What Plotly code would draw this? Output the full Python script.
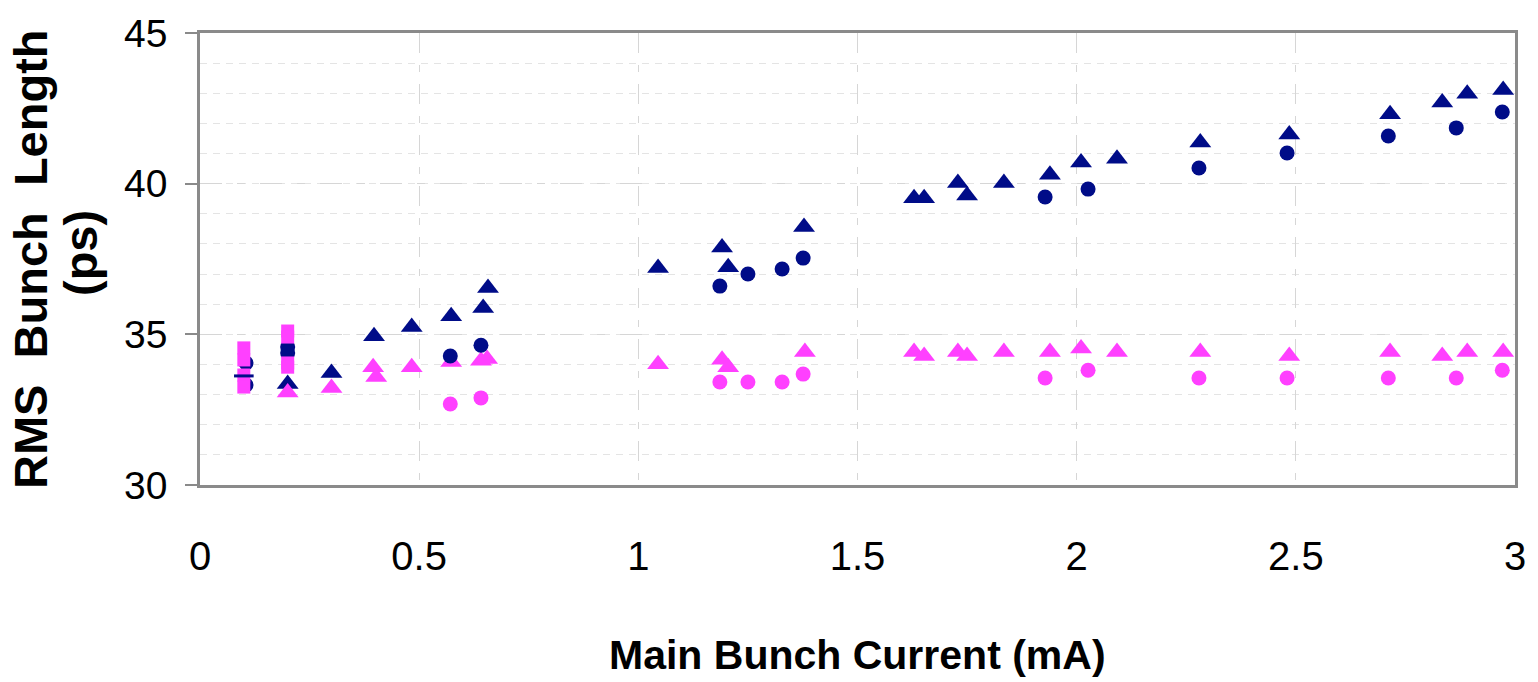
import plotly.graph_objects as go

# Main bunch current (mA) and RMS bunch length (ps) for each measured set
navy_tri_x = [0.20, 0.30, 0.397, 0.483, 0.573, 0.646, 0.657, 1.045, 1.191, 1.205, 1.378,
              1.629, 1.652, 1.729, 1.75, 1.834, 1.939, 2.01, 2.092, 2.282, 2.485, 2.715,
              2.834, 2.891, 2.973]
navy_tri_y = [33.35, 33.72, 34.94, 35.24, 35.60, 35.87, 36.54, 37.20, 37.88, 37.23, 38.56,
              39.52, 39.52, 40.02, 39.61, 40.02, 40.30, 40.70, 40.83, 41.37, 41.63, 42.30,
              42.69, 42.98, 43.11]

navy_circ_x = [0.105, 0.105, 0.20, 0.20, 0.571, 0.641, 1.186, 1.25, 1.328, 1.376, 1.928,
               2.026, 2.279, 2.48, 2.711, 2.866, 2.971]
navy_circ_y = [34.05, 33.32, 34.58, 34.38, 34.28, 34.64, 36.60, 37.00, 37.17, 37.53, 39.56,
               39.82, 40.52, 41.02, 41.58, 41.85, 42.38]

pink_tri_x = [0.20, 0.30, 0.395, 0.402, 0.483, 0.573, 0.641, 0.655, 1.045, 1.191, 1.205,
              1.380, 1.629, 1.652, 1.729, 1.75, 1.834, 1.939, 2.01, 2.092, 2.282, 2.485,
              2.715, 2.834, 2.891, 2.973]
pink_tri_y = [33.07, 33.22, 33.91, 33.58, 33.91, 34.08, 34.12, 34.18, 34.01, 34.16, 33.91,
              34.41, 34.41, 34.28, 34.41, 34.28, 34.41, 34.41, 34.53, 34.41, 34.41, 34.28,
              34.41, 34.28, 34.41, 34.41]

pink_circ_x = [0.571, 0.641, 1.186, 1.25, 1.328, 1.376, 1.928, 2.026, 2.279, 2.48, 2.711,
               2.866, 2.971]
pink_circ_y = [32.69, 32.89, 33.42, 33.42, 33.42, 33.68, 33.55, 33.81, 33.55, 33.55, 33.55,
               33.55, 33.81]

pink_sq_x = [0.1, 0.1, 0.1, 0.1, 0.2, 0.2, 0.2, 0.2]
pink_sq_y = [34.55, 34.15, 33.65, 33.25, 35.11, 34.91, 34.05, 33.91]

navy_dash_x = [0.1]
navy_dash_y = [33.62]

x_ticks = [0, 0.5, 1, 1.5, 2, 2.5, 3]
x_tick_text = ["0", "0.5", "1", "1.5", "2", "2.5", "3"]
y_ticks = [30, 35, 40, 45]
y_tick_text = ["30", "35", "40", "45"]

NAVY = "#000c88"
PINK = "#ff40ff"
FONT = "Liberation Sans, Arial, sans-serif"

fig = go.Figure()


def add_points(x, y, symbol, color, size, name, line=None):
    marker = dict(symbol=symbol, color=color, size=size, line=dict(width=0))
    if line is not None:
        marker["line"] = line
    fig.add_trace(go.Scatter(x=x, y=y, mode="markers", name=name, marker=marker,
                             showlegend=False))


# Draw order controls which markers sit on top where points overlap
add_points(navy_tri_x, navy_tri_y, "triangle-up", NAVY, 19, "Navy triangles")
add_points(pink_tri_x, pink_tri_y, "triangle-up", PINK, 19, "Pink triangles")
add_points(pink_circ_x, pink_circ_y, "circle", PINK, 15, "Pink circles")
add_points(navy_circ_x, navy_circ_y, "circle", NAVY, 15, "Navy circles")
add_points(pink_sq_x, pink_sq_y, "square", PINK, 13, "Pink squares")
add_points(navy_dash_x, navy_dash_y, "line-ew", NAVY, 14, "Navy dash",
           line=dict(width=3, color=NAVY))

fig.update_layout(
    width=1538, height=682,
    margin=dict(l=200, r=23, t=33, b=197),
    paper_bgcolor="white", plot_bgcolor="white",
    showlegend=False,
    xaxis=dict(
        range=[0, 3], tickvals=x_ticks, ticktext=x_tick_text,
        showgrid=True, gridcolor="#d6d6d6", gridwidth=1, griddash="20px,12px,7px,12px",
        zeroline=False, showline=True, linecolor="#8a8a8a", linewidth=2.5, mirror=True,
        ticks="", ticklabelstandoff=34,
        tickfont=dict(family=FONT, size=40, color="black"),
    ),
    yaxis=dict(
        range=[30, 45], tickvals=y_ticks, ticktext=y_tick_text,
        showgrid=True, gridcolor="#d6d6d6", gridwidth=1, griddash="22px,15px,8px,15px",
        minor=dict(dtick=1, showgrid=True, gridcolor="#e4e4e4", gridwidth=1,
                   griddash="7px,6px", ticks=""),
        zeroline=False, showline=True, linecolor="#8a8a8a", linewidth=2.5, mirror=True,
        ticks="outside", ticklen=12, tickwidth=1.5, tickcolor="#8a8a8a",
        ticklabelstandoff=10,
        tickfont=dict(family=FONT, size=39, color="black"),
    ),
    annotations=[
        dict(text="Main Bunch Current (mA)", xref="paper", yref="paper", x=0.5, y=0,
             xanchor="center", yanchor="middle", yshift=-170, showarrow=False,
             font=dict(family=FONT, size=41, color="black", weight="bold")),
        dict(text="RMS  Bunch  Length", xref="paper", yref="paper", x=0, y=0.5,
             xanchor="center", yanchor="middle", xshift=-170, textangle=-90,
             showarrow=False,
             font=dict(family=FONT, size=47, color="black", weight="bold")),
        dict(text="(ps)", xref="paper", yref="paper", x=0, y=0.5,
             xanchor="center", yanchor="middle", xshift=-120, yshift=6, textangle=-90,
             showarrow=False,
             font=dict(family=FONT, size=47, color="black", weight="bold")),
    ],
)

fig.write_html("out.html")
